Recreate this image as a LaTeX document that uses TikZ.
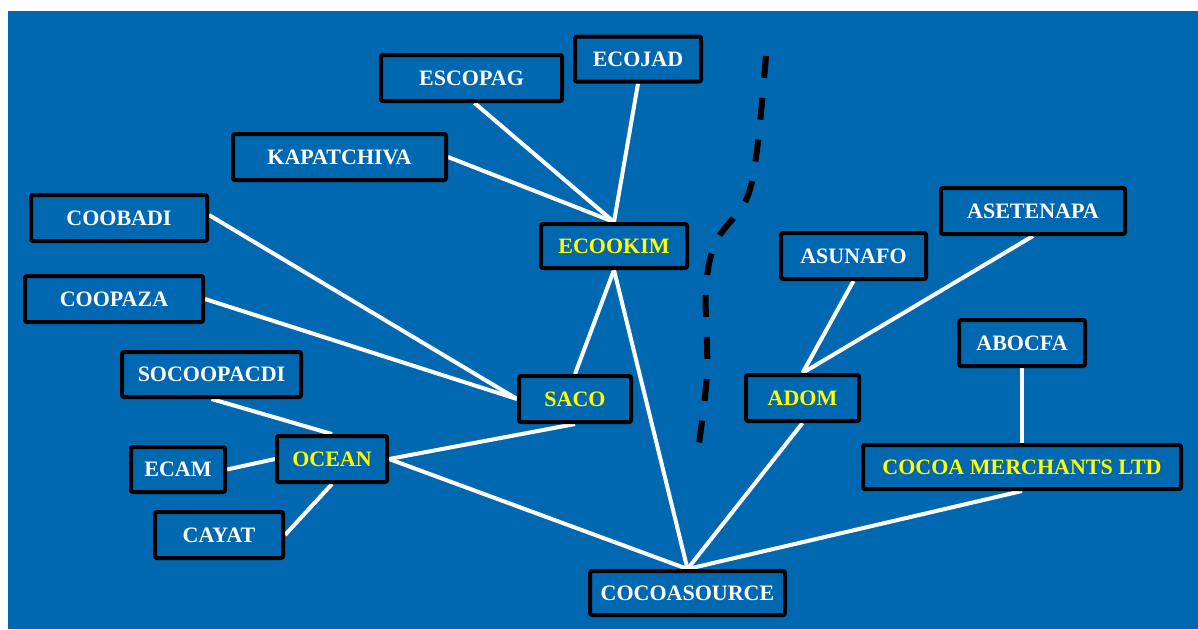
\documentclass[tikz,border=0pt]{standalone}
\usepackage{fontspec}
\setmainfont{Liberation Serif}
\usetikzlibrary{calc}
\definecolor{bgblue}{RGB}{0,103,177}
\definecolor{ylw}{RGB}{255,255,0}
\pgfdeclarelayer{bglayer}
\pgfdeclarelayer{linelayer}
\pgfsetlayers{bglayer,linelayer,main}
\tikzset{
  orgbox/.style={draw=black, line width=4pt, rounded corners=2pt, fill=bgblue,
    inner sep=0pt, text=white, font=\fontsize{22}{22}\selectfont\bfseries},
  hub/.style={orgbox, text=ylw},
  link/.style={draw=white, line width=4pt},
  divider/.style={draw=black, line width=6pt, dash pattern=on 22pt off 20pt}
}
\begin{document}
\begin{tikzpicture}[x=1pt,y=-1pt]
\useasboundingbox (0,0) rectangle (1198,629);
\begin{pgfonlayer}{bglayer}
  \fill[bgblue] (8,11) rectangle (1198,629);
\end{pgfonlayer}

\node[orgbox, minimum width=181pt, minimum height=46pt] (escopag) at (471.5,78) {ESCOPAG};
\node[orgbox, minimum width=126pt, minimum height=45pt] (ecojad) at (638,59) {ECOJAD};
\node[orgbox, minimum width=213pt, minimum height=46pt] (kapatchiva) at (339.5,157) {KAPATCHIVA};
\node[orgbox, minimum width=176pt, minimum height=46pt] (coobadi) at (119,218) {COOBADI};
\node[orgbox, minimum width=178pt, minimum height=46pt] (coopaza) at (114,299) {COOPAZA};
\node[hub, minimum width=146pt, minimum height=44pt] (ecookim) at (614,246) {ECOOKIM};
\node[orgbox, minimum width=179pt, minimum height=45pt] (socoopacdi) at (211.5,374.5) {SOCOOPACDI};
\node[hub, minimum width=112pt, minimum height=46pt] (saco) at (575,399) {SACO};
\node[hub, minimum width=110pt, minimum height=46pt] (ocean) at (332,459) {OCEAN};
\node[orgbox, minimum width=94pt, minimum height=45pt] (ecam) at (178,469.5) {ECAM};
\node[orgbox, minimum width=128pt, minimum height=46pt] (cayat) at (219,535) {CAYAT};
\node[orgbox, minimum width=195pt, minimum height=44pt] (cocoasource) at (687.5,593) {COCOASOURCE};
\node[orgbox, minimum width=145pt, minimum height=46pt] (asunafo) at (853.5,256) {ASUNAFO};
\node[orgbox, minimum width=184pt, minimum height=46pt] (asetenapa) at (1033,211) {ASETENAPA};
\node[orgbox, minimum width=126pt, minimum height=46pt] (abocfa) at (1022,343) {ABOCFA};
\node[hub, minimum width=113pt, minimum height=46pt] (adom) at (802.5,398) {ADOM};
\node[hub, minimum width=318pt, minimum height=44pt] (cocoa) at (1022,467) {COCOA MERCHANTS LTD};

\begin{pgfonlayer}{linelayer}
  \draw[link] ([xshift=3pt]escopag.south) -- (ecookim.north);
  \draw[link] (ecojad.south) -- (ecookim.north);
  \draw[link] (kapatchiva.east) -- (ecookim.north);
  \draw[link] ([yshift=3pt]coobadi.east) -- (saco.west);
  \draw[link] (coopaza.east) -- (saco.west);
  \draw[link] (ecookim.south) -- (saco.north);
  \draw[link] (ecookim.south) -- (cocoasource.north);
  \draw[link] (saco.south) -- (ocean.east);
  \draw[link] (socoopacdi.south) -- (ocean.north);
  \draw[link] (ecam.east) -- (ocean.west);
  \draw[link] (cayat.east) -- (ocean.south);
  \draw[link] (ocean.east) -- (cocoasource.north);
  \draw[link] (adom.south) -- (cocoasource.north);
  \draw[link] (cocoa.south) -- (cocoasource.north);
  \draw[link] (asunafo.south) -- (adom.north);
  \draw[link] (asetenapa.south) -- (adom.north);
  \draw[link] (abocfa.south) -- (cocoa.north);
\end{pgfonlayer}

\coordinate (d1) at (766,56);
\coordinate (d2) at (757,150);
\coordinate (d3) at (746,200);
\coordinate (d4) at (716,242);
\coordinate (d5) at (706,290);
\coordinate (d6) at (707,373);
\coordinate (d7) at (698,450);
\draw[divider] plot[smooth, tension=0.6] coordinates {(d1) (d2) (d3) (d4) (d5) (d6) (d7)};
\end{tikzpicture}
\end{document}
